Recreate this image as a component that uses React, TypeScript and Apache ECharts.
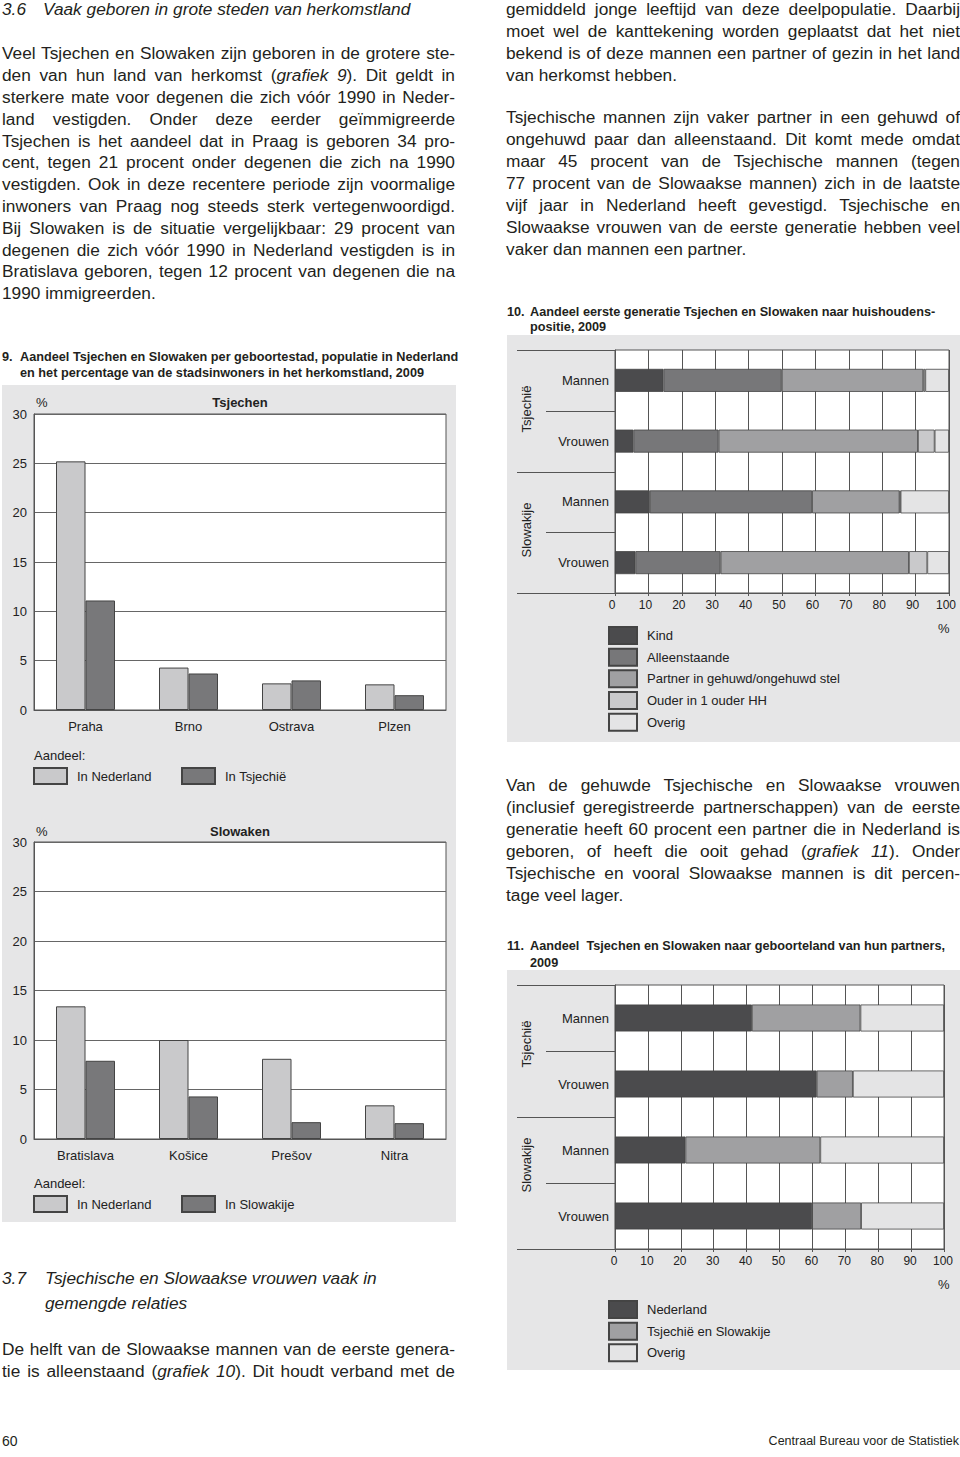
import React, { useEffect, useRef } from "react";
import * as echarts from "echarts";

const FONT = '"Liberation Sans", Arial, Helvetica, sans-serif';
const INK = "#231f20";

// ---------- Grafiek 9 ----------
const tsjCities = ["Praha", "Brno", "Ostrava", "Plzen"];
const tsjInNederland = [25.2, 4.3, 2.7, 2.6];
const tsjInTsjechie = [11.1, 3.7, 3.0, 1.5];
const slwCities = ["Bratislava", "Košice", "Prešov", "Nitra"];
const slwInNederland = [13.4, 10.0, 8.1, 3.4];
const slwInSlowakije = [7.9, 4.3, 1.7, 1.6];
const pctMax9 = 30;
const pctStep9 = 5;

// ---------- Grafiek 10 ----------
const rowKeys = ["Tsjechië|Mannen", "Tsjechië|Vrouwen", "Slowakije|Mannen", "Slowakije|Vrouwen"];
const hhNames = ["Kind", "Alleenstaande", "Partner in gehuwd/ongehuwd stel", "Ouder in 1 ouder HH", "Overig"];
const hhKind = [14.5, 5.5, 10.4, 6.1];
const hhAlleenstaande = [35.4, 25.5, 48.6, 25.5];
const hhPartner = [42.4, 59.7, 26.2, 56.4];
const hhOuder = [0.6, 5.0, 0.3, 5.5];
const hhOverig = [7.1, 4.3, 14.5, 6.5];

// ---------- Grafiek 11 ----------
const ptNames = ["Nederland", "Tsjechië en Slowakije", "Overig"];
const ptNederland = [41.6, 61.3, 21.4, 59.9];
const ptTsjSlw = [33.0, 11.0, 41.0, 14.9];
const ptOverig = [25.4, 27.7, 37.6, 25.2];

// ---------- styling ----------
const PANEL = "#e6e6e7";
const LIGHT9 = "#c9c9cb";
const DARK9 = "#78787a";
const hhColors = ["#4b4b4d", "#777779", "#a0a0a2", "#c9c9cb", "#e4e4e5"];
const ptColors = ["#4b4b4d", "#a0a0a2", "#e4e4e5"];
const GRIDLINE = "#555";

const G9a = { left: 34, top: 414, width: 412, height: 296 };
const G9b = { left: 34, top: 842, width: 412, height: 297 };
const G10 = { left: 615, top: 350, width: 334, height: 243 };
const G11 = { left: 615, top: 985, width: 329, height: 264 };

function buildOption() {
  const gridBase = { show: true, backgroundColor: "#fff", borderColor: GRIDLINE, borderWidth: 1, containLabel: false };
  const txt = (text: string, x: number, y: number, extra: any = {}) => ({
    type: "text",
    x,
    y,
    rotation: extra.rotation || 0,
    style: {
      text,
      fontSize: extra.fontSize || 13,
      fontWeight: extra.bold ? "bold" : "normal",
      fontFamily: FONT,
      fill: "#222",
      align: extra.align || "left",
      verticalAlign: "middle",
    },
  });
  const hline = (x1: number, x2: number, y: number) => ({
    type: "line",
    shape: { x1, y1: Math.round(y) + 0.5, x2, y2: Math.round(y) + 0.5 },
    style: { stroke: GRIDLINE, lineWidth: 1 },
  });
  const rowDecor = (g: any, lab1: number, lab2: number) => {
    const rh = g.height / 4;
    return [
      hline(517, g.left, g.top),
      hline(546, g.left, g.top + rh),
      hline(517, g.left, g.top + 2 * rh),
      hline(546, g.left, g.top + 3 * rh),
      hline(517, g.left, g.top + 4 * rh),
      txt("Tsjechië", 526, lab1, { rotation: Math.PI / 2, align: "center" }),
      txt("Slowakije", 526, lab2, { rotation: Math.PI / 2, align: "center" }),
    ];
  };

  const catX = (gi: number, data: string[]) => ({
    gridIndex: gi,
    type: "category",
    data,
    axisTick: { show: false },
    axisLine: { show: true, lineStyle: { color: GRIDLINE } },
    axisLabel: { fontSize: 13, color: "#222", fontFamily: FONT, margin: 10 },
  });
  const valY9 = (gi: number) => ({
    gridIndex: gi,
    type: "value",
    min: 0,
    max: pctMax9,
    interval: pctStep9,
    axisLine: { show: true, lineStyle: { color: GRIDLINE } },
    axisTick: { show: false },
    axisLabel: { fontSize: 13, color: "#222", fontFamily: FONT, margin: 7 },
    splitLine: { show: true, lineStyle: { color: "#666", width: 1 } },
  });
  const valX100 = (gi: number, pad: number[]) => ({
    gridIndex: gi,
    type: "value",
    min: 0,
    max: 100,
    interval: 10,
    axisLine: { show: true, lineStyle: { color: GRIDLINE } },
    axisTick: { show: true, length: 3, lineStyle: { color: GRIDLINE } },
    axisLabel: { fontSize: 12, color: "#222", fontFamily: FONT, margin: 6, padding: pad },
    splitLine: { show: true, lineStyle: { color: GRIDLINE, width: 1 } },
  });
  const catY = (gi: number) => ({
    gridIndex: gi,
    type: "category",
    data: rowKeys,
    inverse: true,
    axisTick: { show: false },
    axisLine: { show: true, lineStyle: { color: GRIDLINE } },
    axisLabel: {
      fontSize: 13,
      color: "#222",
      fontFamily: FONT,
      margin: 6,
      formatter: (v: string) => v.split("|")[1],
    },
  });

  const bar9 = (name: string, gi: number, data: number[], color: string) => ({
    type: "bar",
    name,
    xAxisIndex: gi,
    yAxisIndex: gi,
    data,
    barWidth: 29.5,
    barGap: "0%",
    itemStyle: { color, borderColor: "#444", borderWidth: 1 },
  });

  const hhData = [hhKind, hhAlleenstaande, hhPartner, hhOuder, hhOverig];
  const ptData = [ptNederland, ptTsjSlw, ptOverig];

  const leg = (name: string, left: number, top: number, w: number, h: number, dy: number) => ({
    data: [name],
    left,
    top,
    padding: 0,
    icon: "rect",
    itemWidth: w,
    itemHeight: h,
    selectedMode: false,
    textStyle: { fontSize: 13, color: "#222", fontFamily: FONT, padding: [dy, 0, 0, 5] },
  });

  const hhTops = [626, 647.7, 669.3, 691, 712.7];
  const ptTops = [1300, 1321.7, 1343.3];

  return {
    animation: false,
    textStyle: { fontFamily: FONT },
    grid: [
      { ...gridBase, ...G9a },
      { ...gridBase, ...G9b },
      { ...gridBase, ...G10 },
      { ...gridBase, ...G11 },
    ],
    xAxis: [catX(0, tsjCities), catX(1, slwCities), valX100(2, [0, 6, 0, 0]), valX100(3, [0, 2, 0, 0])],
    yAxis: [valY9(0), valY9(1), catY(2), catY(3)],
    legend: [
      leg("In Nederland", 33, 767, 33, 16, 6),
      leg("In Tsjechië", 181, 767, 33, 16, 6),
      leg("In Nederland", 33, 1195, 33, 16, 6),
      leg("In Slowakije", 181, 1195, 33, 16, 6),
      ...hhNames.map((n, i) => leg(n, 608, hhTops[i], 28, 17, 8)),
      ...ptNames.map((n, i) => leg(n, 608, ptTops[i], 28, 17, 8)),
    ],
    series: [
      bar9("In Nederland", 0, tsjInNederland, LIGHT9),
      bar9("In Tsjechië", 0, tsjInTsjechie, DARK9),
      bar9("In Nederland", 1, slwInNederland, LIGHT9),
      bar9("In Slowakije", 1, slwInSlowakije, DARK9),
      ...hhNames.map((n, i) => ({
        type: "bar",
        name: n,
        stack: "hh",
        xAxisIndex: 2,
        yAxisIndex: 2,
        barWidth: 23,
        data: hhData[i],
        itemStyle: { color: hhColors[i], borderColor: "#444", borderWidth: 0.8 },
      })),
      ...ptNames.map((n, i) => ({
        type: "bar",
        name: n,
        stack: "pt",
        xAxisIndex: 3,
        yAxisIndex: 3,
        barWidth: 27,
        data: ptData[i],
        itemStyle: { color: ptColors[i], borderColor: "#444", borderWidth: 0.8 },
      })),
    ],
    graphic: [
      txt("%", 36, 402),
      txt("Tsjechen", 240, 402, { bold: true, align: "center" }),
      txt("Aandeel:", 34, 755),
      txt("%", 36, 831),
      txt("Slowaken", 240, 831, { bold: true, align: "center" }),
      txt("Aandeel:", 34, 1183),
      ...rowDecor(G10, 409, 530),
      txt("%", 938, 628),
      ...rowDecor(G11, 1044, 1165),
      txt("%", 938, 1284),
    ],
  };
}

type LP = {
  x: number;
  y: number;
  w?: number;
  j?: boolean;
  it?: boolean;
  b?: boolean;
  fs?: number;
  ls?: number;
  align?: "left" | "right" | "center";
  children: React.ReactNode;
};
const Line = ({ x, y, w, j, it, b, fs = 17.3, ls, align = "left", children }: LP) => (
  <div
    style={{
      position: "absolute",
      left: x,
      top: y - 11,
      width: w,
      height: 22,
      lineHeight: "22px",
      fontSize: fs,
      fontFamily: FONT,
      fontStyle: it ? "italic" : "normal",
      fontWeight: b ? 700 : 400,
      color: INK,
      textAlign: j ? "justify" : align,
      textAlignLast: j ? "justify" : align,
      letterSpacing: ls,
      whiteSpace: w ? "normal" : "nowrap",
    }}
  >
    {children}
  </div>
);

const Para = ({ x, y0, step, w, lines }: { x: number; y0: number; step: number; w: number; lines: React.ReactNode[] }) => (
  <>
    {lines.map((l, i) => (
      <Line key={i} x={x} y={y0 + i * step} w={w} j={i < lines.length - 1}>
        {l}
      </Line>
    ))}
  </>
);

const leftP1: React.ReactNode[] = [
  "Veel Tsjechen en Slowaken zijn geboren in de grotere ste-",
  <>den van hun land van herkomst (<i>grafiek 9</i>). Dit geldt in</>,
  "sterkere mate voor degenen die zich vóór 1990 in Neder-",
  "land vestigden. Onder deze eerder geïmmigreerde",
  "Tsjechen is het aandeel dat in Praag is geboren 34 pro-",
  "cent, tegen 21 procent onder degenen die zich na 1990",
  "vestigden. Ook in deze recentere periode zijn voormalige",
  "inwoners van Praag nog steeds sterk vertegenwoordigd.",
  "Bij Slowaken is de situatie vergelijkbaar: 29 procent van",
  "degenen die zich vóór 1990 in Nederland vestigden is in",
  "Bratislava geboren, tegen 12 procent van degenen die na",
  "1990 immigreerden.",
];
const leftP2: React.ReactNode[] = [
  "De helft van de Slowaakse mannen van de eerste genera-",
  <>tie is alleenstaand (<i>grafiek 10</i>). Dit houdt verband met de</>,
];
const rightP1: React.ReactNode[] = [
  "gemiddeld jonge leeftijd van deze deelpopulatie. Daarbij",
  "moet wel de kanttekening worden geplaatst dat het niet",
  "bekend is of deze mannen een partner of gezin in het land",
  "van herkomst hebben.",
];
const rightP2: React.ReactNode[] = [
  "Tsjechische mannen zijn vaker partner in een gehuwd of",
  "ongehuwd paar dan alleenstaand. Dit komt mede omdat",
  "maar 45 procent van de Tsjechische mannen (tegen",
  "77 procent van de Slowaakse mannen) zich in de laatste",
  "vijf jaar in Nederland heeft gevestigd. Tsjechische en",
  "Slowaakse vrouwen van de eerste generatie hebben veel",
  "vaker dan mannen een partner.",
];
const rightP3: React.ReactNode[] = [
  "Van de gehuwde Tsjechische en Slowaakse vrouwen",
  "(inclusief geregistreerde partnerschappen) van de eerste",
  "generatie heeft 60 procent een partner die in Nederland is",
  <>geboren, of heeft die ooit gehad (<i>grafiek 11</i>). Onder</>,
  "Tsjechische en vooral Slowaakse mannen is dit percen-",
  "tage veel lager.",
];

const Panel = ({ x, y, w, h }: { x: number; y: number; w: number; h: number }) => (
  <div style={{ position: "absolute", left: x, top: y, width: w, height: h, background: PANEL }} />
);

export default function App() {
  const ref = useRef<HTMLDivElement>(null);
  useEffect(() => {
    const chart = echarts.init(ref.current as HTMLDivElement, null, { renderer: "svg" });
    chart.setOption(buildOption() as any);
    return () => chart.dispose();
  }, []);

  const TFS = 12.7;
  return (
    <div style={{ position: "absolute", left: 0, top: 0, width: 960, height: 1457, background: "#fff", overflow: "hidden" }}>
      <Panel x={2} y={385} w={454} h={837} />
      <Panel x={507} y={335} w={453} h={407} />
      <Panel x={507} y={970} w={453} h={400} />
      <div ref={ref} style={{ position: "absolute", left: 0, top: 0, width: 960, height: 1457 }} />

      {/* left column */}
      <Line x={2} y={8.5} it>3.6</Line>
      <Line x={43} y={8.5} it>Vaak geboren in grote steden van herkomstland</Line>
      <Para x={2} y0={53.3} step={21.8} w={453} lines={leftP1} />

      <Line x={2} y={356.7} b fs={TFS}>9.</Line>
      <Line x={20} y={356.7} b fs={TFS}>Aandeel Tsjechen en Slowaken per geboortestad, populatie in Nederland</Line>
      <Line x={20} y={372.7} b fs={TFS}>en het percentage van de stadsinwoners in het herkomstland, 2009</Line>

      <Line x={2} y={1278} it>3.7</Line>
      <Line x={45} y={1278} it>Tsjechische en Slowaakse vrouwen vaak in</Line>
      <Line x={45} y={1303} it>gemengde relaties</Line>
      <Para x={2} y0={1349.3} step={21.8} w={453} lines={[leftP2[0], leftP2[1], ""]} />

      <Line x={2} y={1441} fs={14}>60</Line>
      <Line x={659} y={1441} w={300} fs={12.5} align="right">Centraal Bureau voor de Statistiek</Line>

      {/* right column */}
      <Para x={506} y0={9.3} step={21.9} w={454} lines={rightP1} />
      <Para x={506} y0={117.3} step={21.9} w={454} lines={rightP2} />

      <Line x={507} y={311.7} b fs={TFS}>10.</Line>
      <Line x={530} y={311.7} b fs={TFS}>Aandeel eerste generatie Tsjechen en Slowaken naar huishoudens-</Line>
      <Line x={530} y={326.7} b fs={TFS}>positie, 2009</Line>

      <Para x={506} y0={785} step={22} w={454} lines={rightP3} />

      <Line x={507} y={946} b fs={TFS}>11.</Line>
      <Line x={530} y={946} b fs={TFS}>Aandeel&nbsp; Tsjechen en Slowaken naar geboorteland van hun partners,</Line>
      <Line x={530} y={962.7} b fs={TFS}>2009</Line>
    </div>
  );
}
